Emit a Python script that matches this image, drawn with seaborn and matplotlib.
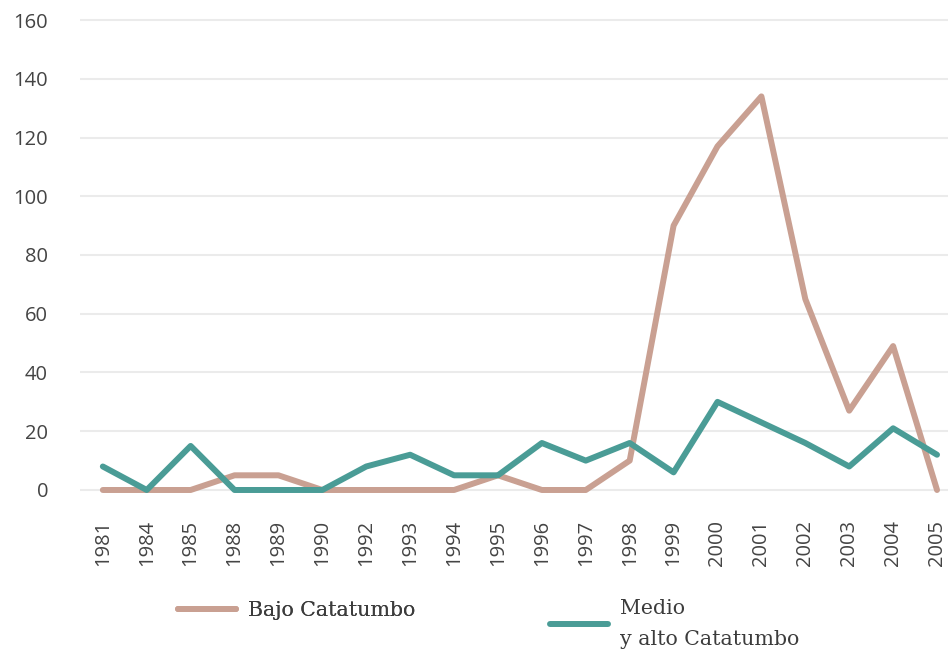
import matplotlib
matplotlib.use("Agg")
import matplotlib.pyplot as plt
import seaborn as sns
import pandas as pd
from matplotlib.lines import Line2D

years = ["1981", "1984", "1985", "1988", "1989", "1990", "1992", "1993", "1994", "1995",
         "1996", "1997", "1998", "1999", "2000", "2001", "2002", "2003", "2004", "2005"]
bajo = [0, 0, 0, 5, 5, 0, 0, 0, 0, 5, 0, 0, 10, 90, 117, 134, 65, 27, 49, 0]
medio = [8, 0, 15, 0, 0, 0, 8, 12, 5, 5, 16, 10, 16, 6, 30, 23, 16, 8, 21, 12]
label_bajo = "Bajo Catatumbo"
label_medio = "Medio\ny alto Catatumbo"
yticks = [0, 20, 40, 60, 80, 100, 120, 140, 160]

col_bajo = "#c9a092"
col_medio = "#4a9c96"

df = pd.DataFrame({"year": years * 2,
                   "value": bajo + medio,
                   "serie": [label_bajo] * len(years) + [label_medio] * len(years)})

sns.set_theme(style="white")
plt.rcParams["font.family"] = ["Open Sans", "DejaVu Sans"]

fig = plt.figure(figsize=(9.48, 6.54), dpi=100)
ax = fig.add_axes([80 / 948, 1 - 498.8 / 654, 868 / 948, (498.8 - 11.2) / 654])

sns.lineplot(data=df, x="year", y="value", hue="serie",
             palette={label_bajo: col_bajo, label_medio: col_medio},
             linewidth=4.3, ax=ax, legend=False, sort=False,
             hue_order=[label_bajo, label_medio])

ax.set_xlim(-0.52, 19.25)
ax.set_ylim(-3, 163)
ax.set_yticks(yticks)
ax.yaxis.grid(True, color="#ebebeb", linewidth=1.5)
ax.xaxis.grid(False)
ax.set_axisbelow(True)
for s in ax.spines.values():
    s.set_visible(False)
ax.set_xlabel("")
ax.set_ylabel("")
ax.tick_params(axis="y", length=0, pad=23, labelsize=14.5, labelcolor="#444444")
ax.tick_params(axis="x", length=0, pad=15, labelsize=14.5, labelcolor="#444444", rotation=90)
for lab in ax.get_yticklabels():
    lab.set_horizontalalignment("right")

leg_prop = {"family": "DejaVu Serif", "size": 14.8}
h1 = [Line2D([], [], color=col_bajo, linewidth=4.3)]
h2 = [Line2D([], [], color=col_medio, linewidth=4.3)]
leg1 = fig.legend(h1, [label_bajo], loc="center left",
                  bbox_to_anchor=(178 / 948, 1 - 611 / 654), frameon=False,
                  borderpad=0, borderaxespad=0,
                  handlelength=2.8, handletextpad=0.6, prop=leg_prop, labelcolor="#3c3c3c")
leg2 = fig.legend(h2, [label_medio], loc="center left",
                  bbox_to_anchor=(550 / 948, 1 - 624 / 654), frameon=False,
                  borderpad=0, borderaxespad=0,
                  handlelength=2.8, handletextpad=0.6, prop=leg_prop, labelcolor="#3c3c3c")
for t in leg2.get_texts():
    t.set_linespacing(1.75)
fig.add_artist(leg1)

fig.savefig("out.png", dpi=100)
